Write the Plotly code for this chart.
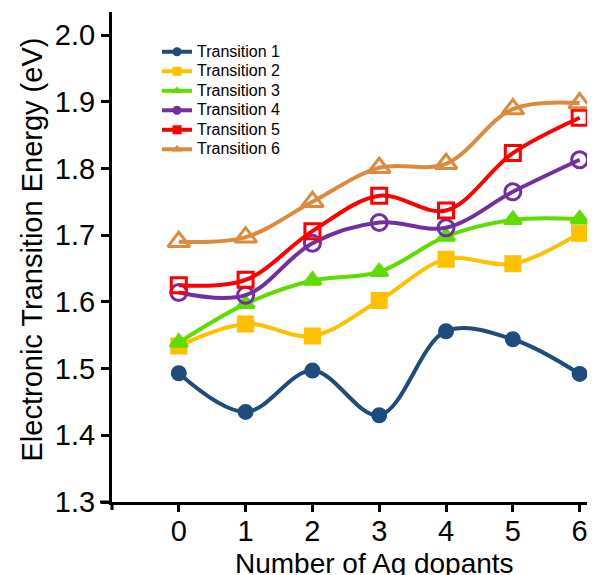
import plotly.graph_objects as go

dopants = [0, 1, 2, 3, 4, 5, 6]
names = ["Transition 1", "Transition 2", "Transition 3", "Transition 4", "Transition 5", "Transition 6"]
t1 = [1.493, 1.435, 1.497, 1.430, 1.556, 1.544, 1.492]
t2 = [1.534, 1.567, 1.549, 1.602, 1.664, 1.657, 1.703]
t3 = [1.539, 1.597, 1.632, 1.645, 1.698, 1.723, 1.724]
t4 = [1.614, 1.610, 1.688, 1.719, 1.711, 1.765, 1.813]
t5 = [1.625, 1.633, 1.706, 1.759, 1.737, 1.823, 1.876]
t6 = [1.690, 1.697, 1.750, 1.801, 1.807, 1.889, 1.898]
series = [t1, t2, t3, t4, t5, t6]
y_ticks = [1.3, 1.4, 1.5, 1.6, 1.7, 1.8, 1.9, 2.0]

colors = ["#1f4b7d", "#ffc000", "#5fdc00", "#7030a0", "#ff0000", "#dd8a3e"]
symbols = ["circle", "square", "triangle-up", "circle-open", "square-open", "triangle-up-open"]
legend_symbols = ["circle", "square", "triangle-up", "circle", "square", "triangle-up"]
sizes = [13, 14, 15, 16, 15, 19]

fig = go.Figure()
for name, ys, c, s, sz in zip(names, series, colors, symbols, sizes):
    fig.add_trace(go.Scatter(
        x=dopants, y=ys, mode="lines+markers", name=name, showlegend=False,
        line=dict(color=c, width=4, shape="spline", smoothing=1.0),
        marker=dict(symbol=s, size=sz, color=c, line=dict(color=c, width=3)),
    ))
for name, c, s in zip(names, colors, legend_symbols):
    fig.add_trace(go.Scatter(
        x=[None], y=[None], mode="lines+markers",
        name=f'<span style="font-size:16px">{name}</span>',
        line=dict(color=c, width=4),
        marker=dict(symbol=s, size=9, color=c),
    ))

# page has an 8px body margin; compensate so the plot lands at page px 112..595, 12..502
OFF = 8
W, H = 595 - OFF, 575 - OFF
L, T, R = 112 - OFF, 12 - OFF, 0
B = H - (502 - OFF)
pw, ph = W - L - R, H - T - B


def px(page_x):
    return (page_x - 112) / pw


def py(page_y):
    return (502 - page_y) / ph


fig.update_layout(
    width=W, height=H,
    margin=dict(l=L, r=R, t=T, b=B, pad=0),
    paper_bgcolor="white", plot_bgcolor="white",
    font=dict(family="Liberation Sans, Arial, sans-serif", color="black"),
    showlegend=True,
    legend=dict(x=px(157), y=py(37), xanchor="left", yanchor="top",
                font=dict(size=12.7, color="black"), bgcolor="rgba(0,0,0,0)",
                tracegroupgap=0, itemwidth=30),
    xaxis=dict(range=[-1, 6.23], tickvals=dopants, ticktext=[str(d) for d in dopants],
               showgrid=False, zeroline=False, showline=True, linecolor="black", linewidth=3,
               ticks="outside", ticklen=7, tickwidth=3, tickcolor="black",
               tickfont=dict(size=29), ticklabelstandoff=-6, automargin=False),
    yaxis=dict(range=[1.3, 2.0345], tickvals=y_ticks, ticktext=[f"{v:.1f}" for v in y_ticks],
               showgrid=False, zeroline=False, showline=True, linecolor="black", linewidth=3,
               ticks="outside", ticklen=8, tickwidth=3, tickcolor="black",
               tickfont=dict(size=29), automargin=False),
    annotations=[
        dict(text="Number of Ag dopants", xref="x", x=2.93, yref="paper",
             y=py(563), xanchor="center", yanchor="middle", showarrow=False,
             font=dict(size=28)),
        dict(text="Electronic Transition Energy (eV)", xref="paper", x=px(31),
             yref="paper", y=py(249.5), xanchor="center", yanchor="middle",
             textangle=-90, showarrow=False, font=dict(size=29)),
    ],
    shapes=[
        dict(type="line", xref="paper", yref="paper", x0=0, x1=0, y0=0, y1=-8 / ph,
             line=dict(color="black", width=3)),
        dict(type="line", xref="paper", yref="paper", x0=-12 / pw, x1=0, y0=0, y1=0,
             line=dict(color="black", width=3)),
    ],
)

fig.write_html("out.html")
